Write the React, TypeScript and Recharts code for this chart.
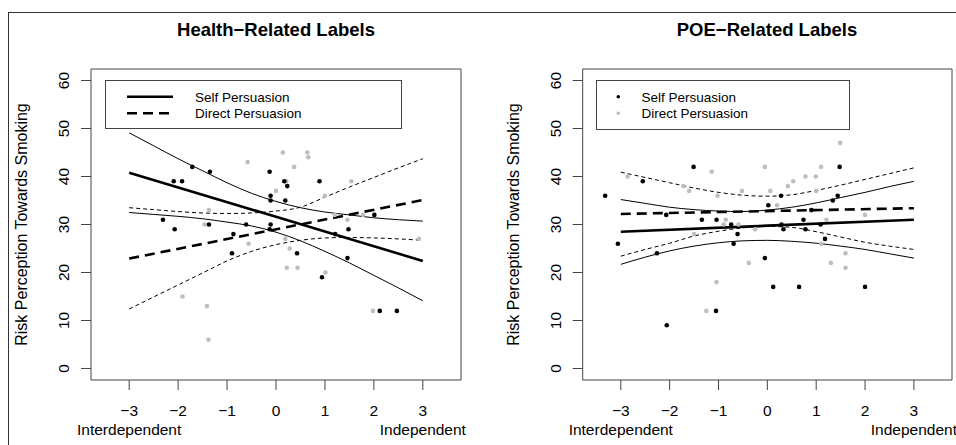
import React from 'react'
import { ComposedChart, Scatter, Line, XAxis, YAxis, ReferenceArea } from 'recharts'

const xTicks = [-3, -2, -1, 0, 1, 2, 3]
const yTicks = [0, 10, 20, 30, 40, 50, 60]
const xDomain = [-3.78, 3.78]
const yDomain = [-2.4, 62.4]
const seriesNames = ['Self Persuasion', 'Direct Persuasion']
const panelTitles = ['Health\u2212Related Labels', 'POE\u2212Related Labels']
const yTitle = 'Risk Perception Towards Smoking'
const xEndLabels = ['Interdependent', 'Independent']

// x positions where the fitted lines / confidence bands were read
const bandX = [-3, -2.5, -2, -1.5, -1, -0.5, 0, 0.5, 1, 1.5, 2, 2.5, 3]
const fitX = [-3, 3]

// Health-related panel
const healthSelfX = [-1.71, -1.35, -2.09, -1.92, -0.13, 0.17, 0.23, 0.89, -0.11, -0.11, 0.19, 2.01, -2.31, -2.07, -1.37, -0.61, -0.11, -0.13, -0.87, 1.21, 1.48, -0.9, 0.43, 1.46, 0.94, 2.12, 2.47]
const healthSelfY = [42, 41, 39, 39, 41, 39, 38, 39, 36, 35, 35, 32, 31, 29, 30, 30, 30, 29, 28, 28, 29, 24, 24, 23, 19, 12, 12]
const healthDirectX = [0.14, 0.64, 0.66, -0.58, 0.37, 0.21, 1.54, 0.0, 1.0, -1.37, 1.2, 1.78, 1.46, -1.46, 0.19, 2.92, -0.56, 0.28, 0.22, 0.44, 1.01, -1.91, -1.41, 1.98, -1.38]
const healthDirectY = [45, 45, 44, 43, 42, 39, 39, 37, 36, 33, 32, 32, 31, 30, 27, 27, 26, 25, 21, 21, 20, 15, 13, 12, 6]
const healthSelfFit = [40.8, 22.4]
const healthSelfUpper = [49.1, 46.4, 43.7, 41.2, 38.7, 36.5, 34.8, 33.5, 32.6, 32.0, 31.4, 31.0, 30.7]
const healthSelfLower = [32.5, 32.1, 31.7, 31.2, 30.5, 29.7, 28.4, 26.6, 24.4, 22.0, 19.4, 16.8, 14.1]
const healthDirectFit = [22.9, 35.1]
const healthDirectUpper = [33.5, 33.1, 32.7, 32.4, 32.3, 32.4, 32.8, 33.6, 35.7, 37.8, 39.8, 41.8, 43.7]
const healthDirectLower = [12.4, 14.9, 17.4, 19.9, 22.4, 24.4, 25.8, 26.7, 27.2, 27.3, 27.2, 27.0, 26.7]

// POE-related panel
const poeSelfX = [-3.32, -2.55, -1.51, -2.07, -1.34, -1.04, -0.74, -0.61, -0.69, 0.02, 0.28, 0.9, 0.29, 0.33, 0.74, 0.78, 1.09, 1.18, 1.34, 1.44, 1.48, -3.06, -2.26, -0.05, -2.06, -1.05, 0.12, 0.65, 2.0]
const poeSelfY = [36, 39, 42, 32, 31, 31, 30, 28, 26, 34, 36, 33, 30, 29, 31, 29, 30, 27, 35, 36, 42, 26, 24, 23, 9, 12, 17, 17, 17]
const poeDirectX = [1.49, -2.86, -1.14, -0.05, 1.1, -1.72, -1.6, -1.02, -0.52, 0.06, 0.42, 0.53, 0.78, 0.99, 1.0, 0.2, 2.0, -0.89, -0.59, -0.85, -0.25, -1.5, 1.21, 1.1, 1.6, -0.38, 1.3, 1.6, -1.04, -1.25]
const poeDirectY = [47, 40, 41, 42, 42, 38, 37, 36, 37, 37, 38, 39, 40, 40, 37, 34, 32, 30, 30, 31, 29, 28, 31, 26, 24, 22, 22, 21, 18, 12]
const poeSelfFit = [28.5, 31.0]
const poeSelfUpper = [35.2, 34.4, 33.6, 33.1, 32.8, 32.7, 33.0, 33.6, 34.5, 35.6, 36.7, 37.9, 39.0]
const poeSelfLower = [21.7, 23.2, 24.5, 25.5, 26.2, 26.6, 26.7, 26.5, 26.1, 25.5, 24.8, 23.9, 23.0]
const poeDirectFit = [32.2, 33.4]
const poeDirectUpper = [40.9, 39.8, 38.7, 37.6, 36.7, 36.1, 35.9, 36.2, 37.1, 38.2, 39.4, 40.6, 41.8]
const poeDirectLower = [23.4, 24.8, 26.1, 27.6, 28.6, 29.3, 29.6, 29.4, 28.5, 27.4, 26.3, 25.5, 24.8]

const FONT = '"Liberation Sans", Arial, Helvetica, sans-serif'
const AXIS = '#444'
const GREY = '#bebebe'

const zip = (xs: number[], ys: number[]) => xs.map((x, i) => ({ x, y: ys[i] }))
const fmt = (v: number) => (v < 0 ? `\u2212${-v}` : `${v}`)

const XTick = ({ x, y, payload }: any) => {
  const v = payload.value
  return (
    <g fontFamily={FONT} fontSize={15.5} fill="#000">
      <text x={x} y={y + 26} textAnchor="middle">{fmt(v)}</text>
      {v === xTicks[0] && <text x={x} y={y + 45} textAnchor="middle">{xEndLabels[0]}</text>}
      {v === xTicks[xTicks.length - 1] && <text x={x} y={y + 45} textAnchor="middle">{xEndLabels[1]}</text>}
    </g>
  )
}

const YTick = ({ x, y, payload }: any) => (
  <text
    x={x - 12}
    y={y}
    textAnchor="middle"
    transform={`rotate(-90, ${x - 12}, ${y})`}
    fontFamily={FONT}
    fontSize={15.5}
    fill="#000"
  >
    {payload.value}
  </text>
)

const Dot = (color: string) => (p: any) => <circle cx={p.cx} cy={p.cy} r={2.3} fill={color} />

interface PanelProps {
  left: number
  yWidth: number
  rightMargin: number
  selfPts: { x: number; y: number }[]
  directPts: { x: number; y: number }[]
  selfFit: number[]
  selfUpper: number[]
  selfLower: number[]
  directFit: number[]
  directUpper: number[]
  directLower: number[]
}

function Panel(p: PanelProps) {
  return (
    <div style={{ position: 'absolute', left: p.left, top: 0 }}>
      <ComposedChart width={478} height={445} margin={{ top: 69, right: p.rightMargin, bottom: 0, left: 0 }}>
        <XAxis
          type="number"
          dataKey="x"
          domain={xDomain}
          ticks={xTicks}
          interval={0}
          axisLine={false}
          tickLine={{ stroke: AXIS }}
          tickSize={10}
          tickMargin={0}
          height={65}
          tick={<XTick />}
        />
        <YAxis
          type="number"
          dataKey="y"
          domain={yDomain}
          ticks={yTicks}
          interval={0}
          axisLine={false}
          tickLine={{ stroke: AXIS }}
          tickSize={10}
          tickMargin={0}
          width={p.yWidth}
          tick={<YTick />}
        />
        <ReferenceArea x1={xDomain[0]} x2={xDomain[1]} y1={yDomain[0]} y2={yDomain[1]} fill="none" stroke={AXIS} strokeWidth={1} fillOpacity={0} strokeOpacity={1} />
        <Scatter data={p.directPts} fill={GREY} shape={Dot(GREY)} isAnimationActive={false} />
        <Scatter data={p.selfPts} fill="#000" shape={Dot('#000')} isAnimationActive={false} />
        <Line data={zip(bandX, p.selfUpper)} dataKey="y" type="monotone" stroke="#000" strokeWidth={1} dot={false} isAnimationActive={false} />
        <Line data={zip(bandX, p.selfLower)} dataKey="y" type="monotone" stroke="#000" strokeWidth={1} dot={false} isAnimationActive={false} />
        <Line data={zip(bandX, p.directUpper)} dataKey="y" type="monotone" stroke="#000" strokeWidth={1} strokeDasharray="4 3" dot={false} isAnimationActive={false} />
        <Line data={zip(bandX, p.directLower)} dataKey="y" type="monotone" stroke="#000" strokeWidth={1} strokeDasharray="4 3" dot={false} isAnimationActive={false} />
        <Line data={zip(fitX, p.selfFit)} dataKey="y" type="linear" stroke="#000" strokeWidth={2.6} dot={false} isAnimationActive={false} />
        <Line data={zip(fitX, p.directFit)} dataKey="y" type="linear" stroke="#000" strokeWidth={2.6} strokeDasharray="10 6" dot={false} isAnimationActive={false} />
      </ComposedChart>
    </div>
  )
}

export default function App() {
  return (
    <div style={{ position: 'absolute', left: 0, top: 0, width: 956, height: 445, overflow: 'hidden', background: '#fff' }}>
      <Panel
        left={0}
        yWidth={91}
        rightMargin={17}
        selfPts={zip(healthSelfX, healthSelfY)}
        directPts={zip(healthDirectX, healthDirectY)}
        selfFit={healthSelfFit}
        selfUpper={healthSelfUpper}
        selfLower={healthSelfLower}
        directFit={healthDirectFit}
        directUpper={healthDirectUpper}
        directLower={healthDirectLower}
      />
      <Panel
        left={478}
        yWidth={104.7}
        rightMargin={4}
        selfPts={zip(poeSelfX, poeSelfY)}
        directPts={zip(poeDirectX, poeDirectY)}
        selfFit={poeSelfFit}
        selfUpper={poeSelfUpper}
        selfLower={poeSelfLower}
        directFit={poeDirectFit}
        directUpper={poeDirectUpper}
        directLower={poeDirectLower}
      />
      <svg width={956} height={445} style={{ position: 'absolute', left: 0, top: 0, pointerEvents: 'none' }} fontFamily={FONT}>
        <rect x={8.5} y={12.5} width={1000} height={1000} fill="none" stroke="#333" />
        <text x={276} y={36} textAnchor="middle" fontSize={18.5} fontWeight="bold">{panelTitles[0]}</text>
        <text x={767} y={36} textAnchor="middle" fontSize={18.5} fontWeight="bold">{panelTitles[1]}</text>
        <text x={27} y={224.5} textAnchor="middle" fontSize={16} transform="rotate(-90, 27, 224.5)">{yTitle}</text>
        <text x={519} y={224.5} textAnchor="middle" fontSize={16} transform="rotate(-90, 519, 224.5)">{yTitle}</text>
        {/* legend, health panel: line keys */}
        <rect x={105.5} y={80.5} width={296} height={48} fill="#fff" stroke={AXIS} />
        <line x1={127} x2={173} y1={96.7} y2={96.7} stroke="#000" strokeWidth={2.6} />
        <line x1={127} x2={173} y1={113.3} y2={113.3} stroke="#000" strokeWidth={2.6} strokeDasharray="10 6" />
        <text x={195} y={101.5} fontSize={13.5}>{seriesNames[0]}</text>
        <text x={195} y={118} fontSize={13.5}>{seriesNames[1]}</text>
        {/* legend, POE panel: point keys */}
        <rect x={596.5} y={80.5} width={253} height={49} fill="#fff" stroke={AXIS} />
        <circle cx={618.3} cy={96.7} r={1.8} fill="#000" />
        <circle cx={618.3} cy={113.3} r={1.8} fill={GREY} />
        <text x={641.5} y={101.5} fontSize={13.5}>{seriesNames[0]}</text>
        <text x={641.5} y={118} fontSize={13.5}>{seriesNames[1]}</text>
      </svg>
    </div>
  )
}
